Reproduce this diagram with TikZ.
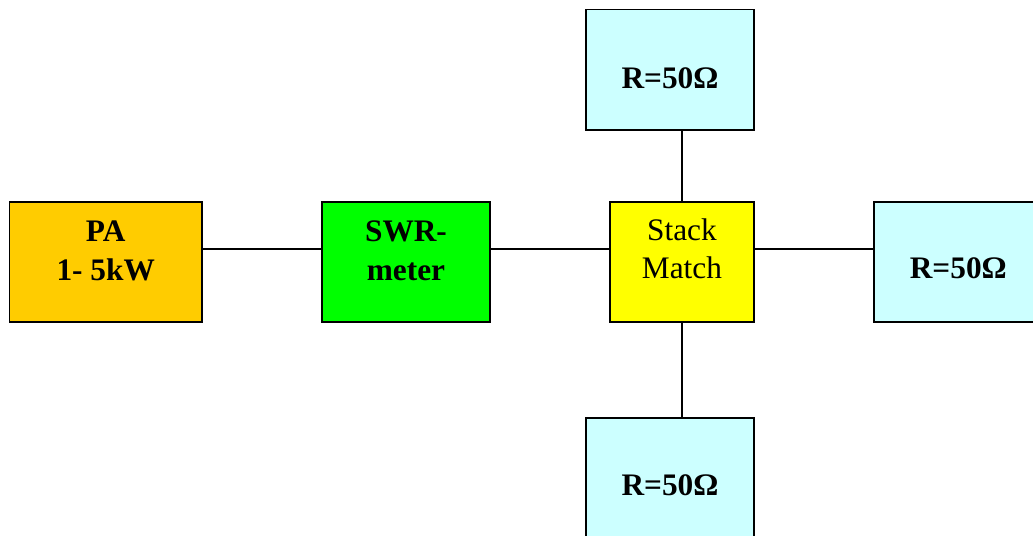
\documentclass[tikz,border=0pt]{standalone}
\usepackage{fontspec}
\setmainfont{Liberation Serif}
\definecolor{paorange}{HTML}{FFCC00}
\definecolor{swrgreen}{HTML}{00FF00}
\definecolor{smyellow}{HTML}{FFFF00}
\definecolor{rcyan}{HTML}{CCFFFF}
\begin{document}
\begin{tikzpicture}[x=0.75pt,y=-0.75pt,
  box/.style={draw=black, line width=1.3pt, rectangle, inner sep=0pt, minimum height=90pt},
  lbl/.style={anchor=base, inner sep=0pt, font=\fontsize{23.5}{28}\selectfont\bfseries},
  lblr/.style={anchor=base, inner sep=0pt, font=\fontsize{23.5}{28}\selectfont},
  wire/.style={draw=black, line width=1.3pt}]
\useasboundingbox (0,0) rectangle (1033,536);
\clip (0,0) rectangle (1033,536);
% boxes
\node[box, fill=paorange, minimum width=144.5pt] (pa) at (105.7,262) {};
\node[box, fill=swrgreen, minimum width=126.2pt] (swr) at (405.8,262) {};
\node[box, fill=smyellow, minimum width=108.2pt] (sm) at (681.8,262) {};
\node[box, fill=rcyan, minimum width=126.2pt, minimum height=90.5pt] (rtop) at (669.8,69.7) {};
\node[box, fill=rcyan, minimum width=126.2pt] (rright) at (957.8,262) {};
\node[box, fill=rcyan, minimum width=126.2pt] (rbot) at (669.8,477.8) {};
% connectors
\draw[wire] ([yshift=9.5pt]pa.east) -- ([yshift=9.5pt]swr.west);
\draw[wire] ([yshift=9.5pt]swr.east) -- ([yshift=9.5pt]sm.west);
\draw[wire] ([yshift=9.5pt]sm.east) -- ([yshift=9.5pt]rright.west);
\draw[wire] (sm.north) -- (rtop.south -| sm.north);
\draw[wire] (sm.south) -- (rbot.north -| sm.south);
% labels
\node[lbl] (tpa1) at (105.7,241.7) {PA};
\node[lbl] (tpa2) at (105.7,280) {1- 5kW};
\node[lbl] (tswr1) at (406,241.7) {SWR-};
\node[lbl] (tswr2) at (406,280) {meter};
\node[lblr] (tsm1) at (682,240.7) {Stack};
\node[lblr] (tsm2) at (682,278.3) {Match};
\node[lbl] (trtop) at (670,88.3) {R=50Ω};
\node[lbl] (trright) at (958.3,278.3) {R=50Ω};
\node[lbl] (trbot) at (670,495) {R=50Ω};
\end{tikzpicture}
\end{document}
